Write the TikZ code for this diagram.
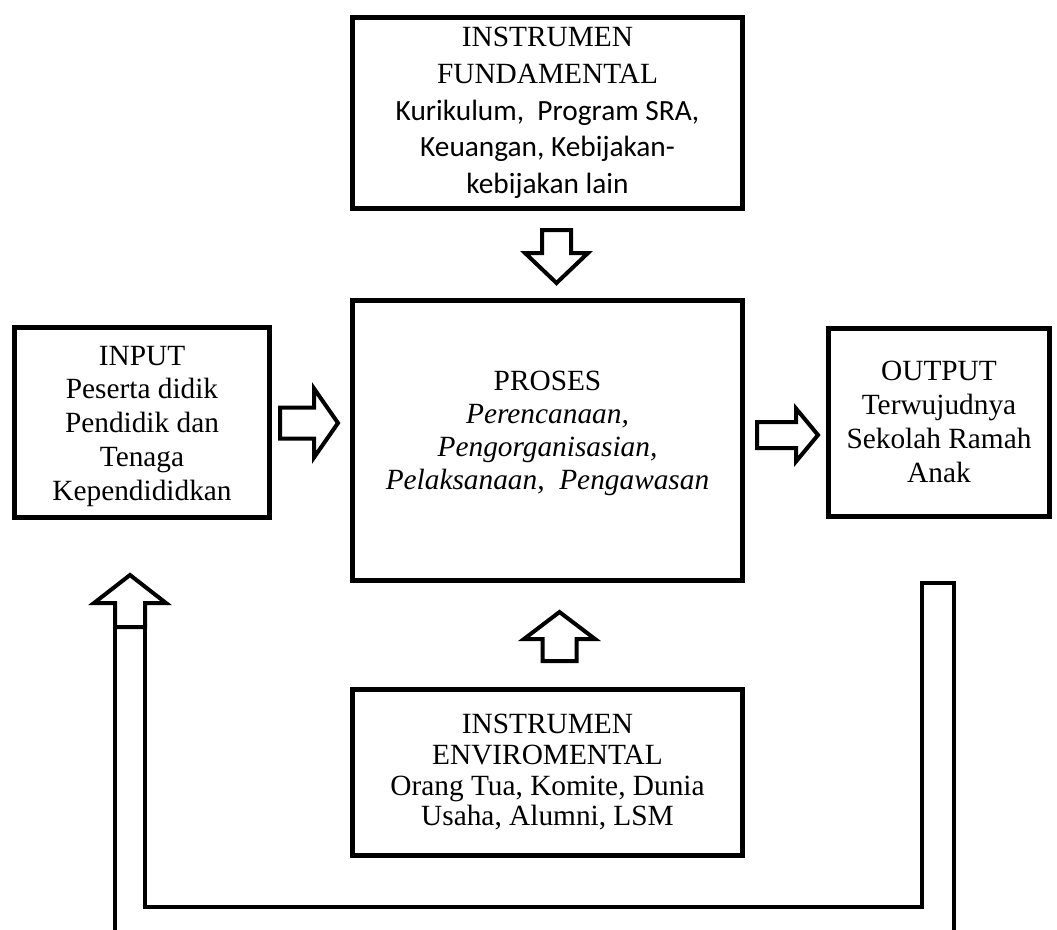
\documentclass[tikz,border=0pt]{standalone}
\usepackage{fontspec}
\setmainfont{Liberation Serif}
\newfontfamily\calibri{Carlito}
\usetikzlibrary{positioning, calc}
\tikzset{
    box/.style={rectangle, draw, line width=3.75pt, align=center, inner sep=0pt},
    bigbox/.style={box, minimum width=292.5pt},
    arrowline/.style={draw, line width=3pt, fill=white},
    loopline/.style={line width=3pt}
}
% hollow block arrow: centre, angle, length, shaft, head, head length
\newcommand{\blockarrow}[6]{%
  \draw[arrowline, shift={#1}, rotate=#2]
    ({-#3/2},{-#4/2}) -- ({#3/2-#6},{-#4/2}) -- ({#3/2-#6},{-#5/2}) -- ({#3/2},0)
    -- ({#3/2-#6},{#5/2}) -- ({#3/2-#6},{#4/2}) -- ({-#3/2},{#4/2}) -- cycle;}

\begin{document}
\begin{tikzpicture}[x=0.75pt, y=-0.75pt]
        \useasboundingbox (0,0) rectangle (1057,929);

        \node (FUND) [bigbox, minimum height=143.25pt, font=\fontsize{22}{27.5}\selectfont] at (547.5,113)
            {INSTRUMEN\\FUNDAMENTAL\\{\calibri Kurikulum,~~Program SRA,}\\{\calibri Keuangan, Kebijakan-}\\{\calibri kebijakan lain}};
        \node (PROS) [bigbox, minimum height=210pt, font=\fontsize{22}{24.75}\selectfont] at (547.5,440.5)
            {PROSES\\\textit{Perencanaan,}\\\textit{Pengorganisasian,}\\\textit{Pelaksanaan,~~Pengawasan}\rule[-16pt]{0pt}{0pt}};
        \node (ENV) [bigbox, minimum height=124.5pt, font=\fontsize{22}{23}\selectfont] at (547.5,772.5)
            {INSTRUMEN\\ENVIROMENTAL\\Orang Tua, Komite, Dunia\\Usaha, Alumni, LSM};
        \node (IN) [box, minimum width=191.25pt, minimum height=142.5pt, font=\fontsize{22}{25.3}\selectfont] at (142,422.5)
            {\rule{0pt}{20pt}INPUT\\Peserta didik\\Pendidik dan\\Tenaga\\Kependididkan};
        \node (OUT) [box, minimum width=165.75pt, minimum height=141pt, font=\fontsize{22}{25.3}\selectfont] at (939,422)
            {OUTPUT\\Terwujudnya\\Sekolah Ramah\\Anak};

        % Block arrows
        \blockarrow{(556.5,256.5)}{-90}{53}{29}{63}{30}
        \blockarrow{(559.5,636.5)}{90}{49}{34}{71}{27}
        \blockarrow{(309,423)}{0}{58}{31}{69}{24}
        \blockarrow{(787.5,435)}{0}{61}{26}{53}{22}

        % Feedback loop
        \coordinate (fbTip) at (130,575);
        \coordinate (fbIn) at (115,935);
        \coordinate (fbOut) at (954,935);
        \draw[arrowline] (115,627) -- (115,603) -- (94,603) -- (fbTip) -- (166,603) -- (145,603) -- (145,627) -- cycle;
        \draw[loopline] (115,627) -- (fbIn);
        \draw[loopline] (145,627) -- (145,907) -- (922,907) -- (922,583) -- (954,583) -- (fbOut);
\end{tikzpicture}
\end{document}
